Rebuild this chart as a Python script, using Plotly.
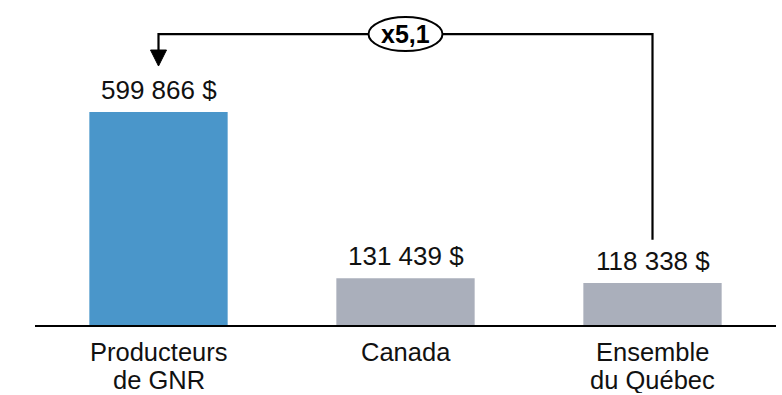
import plotly.graph_objects as go

categories = ["Producteurs<br>de GNR", "Canada", "Ensemble<br>du Québec"]
values = [599866, 131439, 118338]
value_labels = ["599 866 $", "131 439 $", "118 338 $"]
ratio_label = "x5,1"

colors = ["#4A96CA", "#AAAFBB", "#AAAFBB"]
FONT = "Liberation Sans, Arial, sans-serif"

vmax = max(values)
y_top = vmax * 1.526
y_line = vmax * 1.366
y_base = vmax * 1.291
y_tip = vmax * 1.216
y_start = vmax * 0.40

fig = go.Figure()
fig.add_trace(go.Bar(
    x=[0, 1, 2], y=values, marker=dict(color=colors, line=dict(width=0)),
))
for i, (v, lab) in enumerate(zip(values, value_labels)):
    fig.add_annotation(x=i, y=v, xref="x", yref="y", text=lab, showarrow=False,
                       yanchor="bottom", yshift=5,
                       font=dict(family=FONT, size=26, color="#111111"))

# category labels (one annotation per line for tighter line spacing)
for i, cat in enumerate(categories):
    for k, line in enumerate(cat.split("<br>")):
        fig.add_annotation(x=i, y=0, xref="x", yref="y", text=line, showarrow=False,
                           yanchor="middle", yshift=-(27 + 28 * k), height=26,
                           font=dict(family=FONT, size=25.5, color="#111111"))

# connector line from Québec to GNR
fig.add_shape(type="path", xref="x", yref="y",
              path=f"M 2 {y_start} L 2 {y_line} L 0 {y_line} L 0 {y_base}",
              line=dict(color="#000000", width=2.2))
# arrow head (pixel sized)
fig.add_shape(type="path", xref="x", yref="y", xsizemode="pixel", ysizemode="pixel",
              xanchor=0, yanchor=y_tip,
              path="M -8 16 L 8 16 L 0 0 Z",
              fillcolor="#000000", line=dict(color="#000000", width=1))
# ellipse
fig.add_shape(type="circle", xref="x", yref="y", xsizemode="pixel", ysizemode="pixel",
              xanchor=1, yanchor=y_line, x0=-37, x1=37, y0=-17, y1=17,
              fillcolor="white", line=dict(color="#000000", width=2))
fig.add_annotation(x=1, y=y_line, xref="x", yref="y", text=f"<b>{ratio_label}</b>",
                   showarrow=False, font=dict(family=FONT, size=25, color="#000000"))

fig.update_layout(
    width=782, height=395, margin=dict(l=35, r=6, t=0, b=70),
    plot_bgcolor="white", paper_bgcolor="white", showlegend=False,
    bargap=0.44,
    xaxis=dict(tickmode="array", tickvals=[0, 1, 2], ticktext=categories,
               showticklabels=False,
               range=[-0.5, 2.5], showgrid=False, zeroline=False,
               showline=True, linecolor="#000000", linewidth=2, ticks="",
               automargin=False),
    yaxis=dict(range=[0, y_top], visible=False, automargin=False),
)
fig.write_html("out.html")
